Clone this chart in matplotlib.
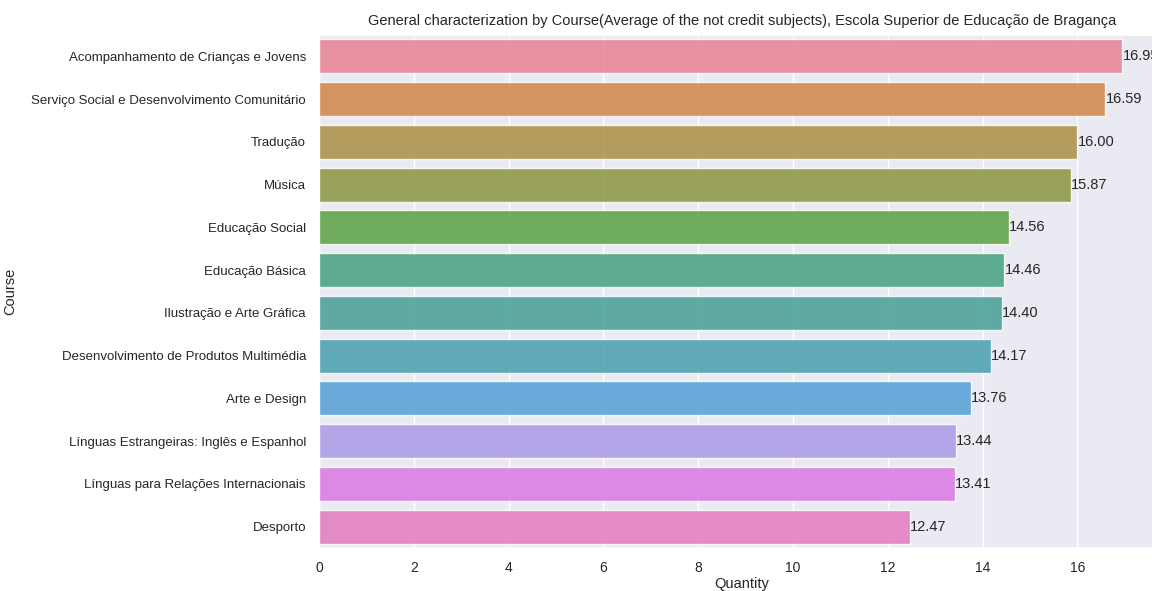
import matplotlib
matplotlib.use('Agg')
import matplotlib.pyplot as plt
import seaborn as sns
import pandas as pd

# dados: média das unidades curriculares por curso
courses = [
    'Acompanhamento de Crianças e Jovens',
    'Serviço Social e Desenvolvimento Comunitário',
    'Tradução',
    'Música',
    'Educação Social',
    'Educação Básica',
    'Ilustração e Arte Gráfica',
    'Desenvolvimento de Produtos Multimédia',
    'Arte e Design',
    'Línguas Estrangeiras: Inglês e Espanhol',
    'Línguas para Relações Internacionais',
    'Desporto',
]
averages = [16.95, 16.59, 16.00, 15.87, 14.56, 14.46, 14.40, 14.17, 13.76, 13.44, 13.41, 12.47]

sns.set_theme(style='darkgrid')
plt.rcParams['font.family'] = ['Liberation Sans', 'DejaVu Sans']

df = pd.DataFrame({'Course': courses, 'Quantity': averages})
colors = sns.color_palette('husl', len(courses))

fig = plt.figure(figsize=(11.52, 5.91), dpi=100)
ax = fig.add_axes([0.277, 0.0728, 0.734, 0.868])
sns.barplot(data=df, x='Quantity', y='Course', hue='Course', palette=colors,
            saturation=0.75, alpha=0.85, legend=False, ax=ax)

# rótulos de valor à direita de cada barra
for i, v in enumerate(averages):
    ax.text(v, i, f'{v:.2f}', va='center', ha='left', fontsize=10.5, color='#262626')

ax.set_xlim(0, 17.84)
ax.set_title('General characterization by Course(Average of the not credit subjects), Escola Superior de Educação de Bragança',
             fontsize=10.5, pad=7)
ax.set_xlabel('Quantity', fontsize=10.5, labelpad=1)
ax.set_ylabel('Course', fontsize=10.5)
ax.yaxis.set_label_coords(-0.357, 0.5)
ax.tick_params(axis='y', labelsize=9.5)
ax.tick_params(axis='x', labelsize=10)

fig.savefig('out.png', dpi=100)
